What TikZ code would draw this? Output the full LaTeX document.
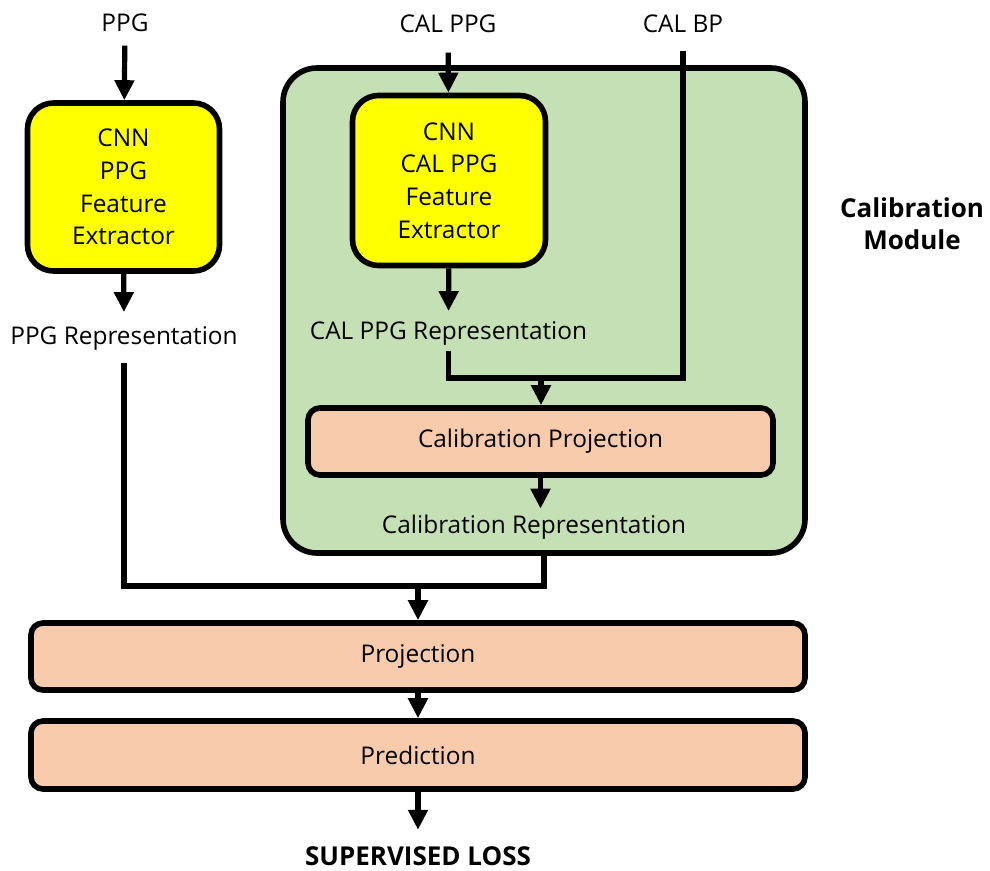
\documentclass[tikz,border=0pt]{standalone}
\usepackage{fontspec}
\setmainfont{Open Sans}
\usepackage{tikz}
\usetikzlibrary{arrows.meta}
\definecolor{cnnyellow}{HTML}{FFFF00}
\definecolor{modgreen}{HTML}{C5E0B4}
\definecolor{projorange}{HTML}{F8CBAD}

\begin{document}
\begin{tikzpicture}[x=0.5pt,y=-0.5pt,
		font=\fontsize{12.2}{16.3}\selectfont,
		cnnbox/.style={draw, line width=2.8pt, fill=cnnyellow, rounded corners=13pt, align=center, minimum width=96pt, minimum height=84pt, inner sep=0pt},
		projbox/.style={draw, line width=2.8pt, fill=projorange, rounded corners=6pt, minimum height=33.5pt, inner sep=0pt},
		lbl/.style={inner sep=0pt, anchor=base},
		boldlbl/.style={inner sep=0pt, font=\fontsize{13}{16}\selectfont\bfseries, align=center},
		wire/.style={line width=2.6pt},
		flow/.style={line width=2.6pt, -{Triangle[width=9.5pt,length=10pt]}}]
	\useasboundingbox (0,0) rectangle (990,871);

	\node[draw, line width=2.8pt, fill=modgreen, rounded corners=17pt, minimum width=261pt, minimum height=242.5pt] (calmod) at (544,310.5) {};
	\node[boldlbl] (calmodlbl) at (912,224) {Calibration\\Module};

	\path	(125,32) node[lbl] (ppg) {PPG}
		(448,33) node[lbl] (calppg) {CAL PPG}
		(683,33) node[lbl] (calbp) {CAL BP};
	\node[cnnbox] (ppgcnn) at (123.5,187) {CNN\\PPG\\Feature\\Extractor};
	\node[cnnbox, minimum width=96.5pt, minimum height=85pt] (calcnn) at (449,180.5) {CNN\\CAL PPG\\Feature\\Extractor};
	\node[lbl] (ppgrep) at (124,345) {PPG Representation};
	\node[lbl] (calrep) at (448.5,340) {CAL PPG Representation};
	\node[projbox, minimum width=232.5pt] (calproj) at (540.5,441.5) {Calibration Projection};
	\node[lbl] (calibrep) at (534,533) {Calibration Representation};
	\node[projbox, minimum width=387pt] (proj) at (418,656.5) {Projection};
	\node[projbox, minimum width=387pt, minimum height=34pt] (pred) at (418,755) {Prediction};
	\node[boldlbl, anchor=base] (loss) at (418,865) {SUPERVISED LOSS};

	\coordinate (calmerge) at (541,378);
	\coordinate (merge) at (418,586);

	\draw[flow, shorten <=6.5pt] (ppg) -- (ppgcnn);
	\draw[flow, shorten <=9.5pt] (calppg) -- (calcnn);
	\draw[flow, shorten >=7.3pt] (ppgcnn) -- (ppgrep);
	\draw[flow, shorten >=5.3pt] (calcnn) -- (calrep);
	\draw[wire, shorten <=2.2pt] (calrep.south) |- (calmerge);
	\draw[wire, shorten <=8.5pt] (calbp.south) |- (calmerge);
	\draw[flow] (calmerge) -- (calmerge |- calproj.north);
	\draw[flow, shorten >=2.7pt] (calproj.south) -- (calproj.south |- calibrep.north);
	\draw[wire, shorten <=5.7pt] (ppgrep.south) |- (merge) -| (calmod.south);
	\draw[flow] (merge) -- (proj);
	\draw[flow] (proj) -- (pred);
	\draw[flow, shorten >=8pt] (pred) -- (loss);
\end{tikzpicture}
\end{document}
